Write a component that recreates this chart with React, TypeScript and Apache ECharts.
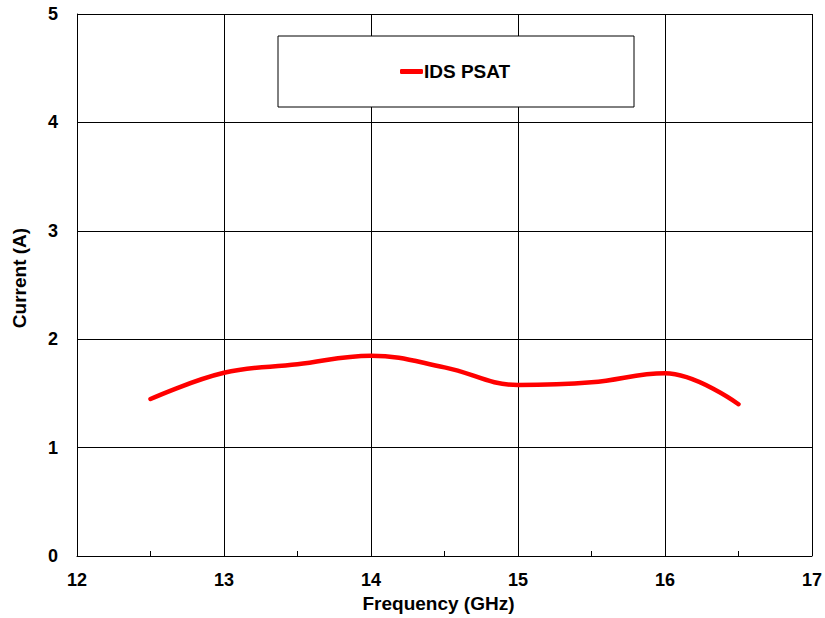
import React, { useEffect, useRef } from "react";
import * as echarts from "echarts";

const frequency = [12.5, 13, 13.5, 14, 14.5, 15, 15.5, 16, 16.5];
const idsPsat = [1.448, 1.69, 1.768, 1.848, 1.74, 1.578, 1.602, 1.685, 1.4];
const seriesName = "IDS PSAT";
const xTitle = "Frequency (GHz)";
const yTitle = "Current (A)";

const FONT = "Arial, 'Liberation Sans', sans-serif";

export default function App() {
  const ref = useRef<HTMLDivElement>(null);
  useEffect(() => {
    if (!ref.current) return;
    const chart = echarts.init(ref.current, null, { renderer: "svg" });
    chart.setOption({
      animation: false,
      backgroundColor: "#ffffff",
      grid: { left: 77, top: 14, right: 12, bottom: 62, containLabel: false },
      graphic: [
        {
          type: "rect",
          shape: { x: 278, y: 36, width: 356, height: 71 },
          style: { fill: "#ffffff", stroke: "#000000", lineWidth: 1 },
          z: 10,
        },
      ],
      legend: {
        show: true,
        left: 395,
        top: 57,
        z: 20,
        itemWidth: 23,
        itemHeight: 5,
        icon: "roundRect",
        textStyle: { fontFamily: FONT, fontWeight: "bold", fontSize: 19, color: "#000", padding: [0, 0, 0, -4] },
        data: [{ name: seriesName, icon: "roundRect" }],
      },
      xAxis: {
        type: "value",
        min: 12,
        max: 17,
        interval: 1,
        name: xTitle,
        nameLocation: "middle",
        nameGap: 35,
        nameTextStyle: { fontFamily: FONT, fontWeight: "bold", fontSize: 19, color: "#000", padding: [0, 12, 0, 0] },
        axisLine: { show: true, lineStyle: { color: "#000", width: 1 } },
        axisTick: { show: true, inside: true, length: 5, lineStyle: { color: "#000" } },
        minorTick: { show: true, splitNumber: 2, length: 5, lineStyle: { color: "#000" } },
        axisLabel: { fontFamily: FONT, fontWeight: "bold", fontSize: 18, color: "#000", margin: 15 },
        splitLine: { show: true, lineStyle: { color: "#000", width: 1 } },
      },
      yAxis: {
        type: "value",
        min: 0,
        max: 5,
        interval: 1,
        name: yTitle,
        nameLocation: "middle",
        nameGap: 48,
        nameTextStyle: { fontFamily: FONT, fontWeight: "bold", fontSize: 19, color: "#000", padding: [0, 0, 0, 14] },
        axisLine: { show: true, lineStyle: { color: "#000", width: 1 } },
        axisTick: { show: false },
        axisLabel: { fontFamily: FONT, fontWeight: "bold", fontSize: 18, color: "#000", margin: 19 },
        splitLine: { show: true, lineStyle: { color: "#000", width: 1 } },
      },
      series: [
        {
          name: seriesName,
          type: "line",
          smooth: 0.4,
          showSymbol: false,
          symbol: "none",
          lineStyle: { color: "#ff0000", width: 4.5, cap: "round" },
          itemStyle: { color: "#ff0000" },
          data: frequency.map((f, i) => [f, idsPsat[i]]),
        },
      ],
    });
    return () => chart.dispose();
  }, []);
  return <div ref={ref} style={{ width: 825, height: 618, position: "absolute", left: 0, top: 0 }} />;
}
